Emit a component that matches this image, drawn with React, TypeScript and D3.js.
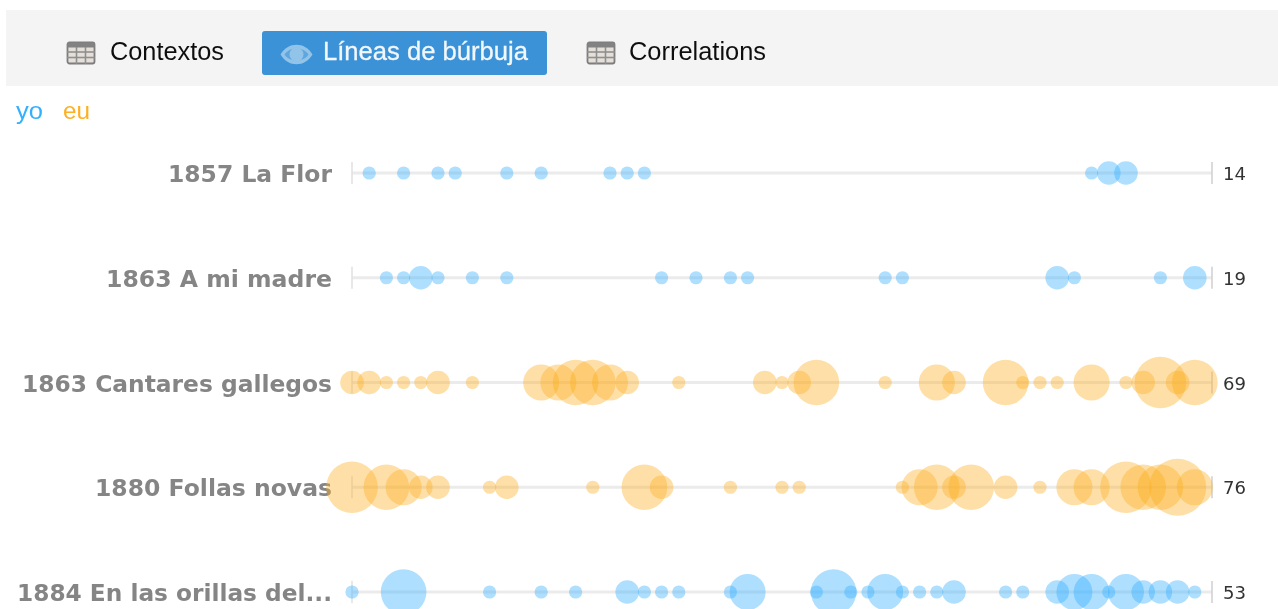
import React from "react";
import * as d3 from "d3";

const BOOKS = ["1857 La Flor", "1863 A mi madre", "1863 Cantares gallegos", "1880 Follas novas", "1884 En las orillas del..."];
const TOTALS = [14, 19, 69, 76, 53];
const SPEAKER = ["yo", "yo", "eu", "eu", "yo"];
const POS_1857 = [1, 3, 5, 6, 9, 11, 15, 16, 17, 43, 44, 45];
const VAL_1857 = [1, 1, 1, 1, 1, 1, 1, 1, 1, 1, 2, 2];
const POS_1863A = [2, 3, 4, 5, 7, 9, 18, 20, 22, 23, 31, 32, 41, 42, 47, 49];
const VAL_1863A = [1, 1, 2, 1, 1, 1, 1, 1, 1, 1, 1, 1, 2, 1, 1, 2];
const POS_1863C = [0, 1, 2, 3, 4, 5, 7, 11, 12, 13, 14, 15, 16, 19, 24, 25, 26, 27, 31, 34, 35, 38, 39, 40, 41, 43, 45, 46, 47, 48, 49];
const VAL_1863C = [2, 2, 1, 1, 1, 2, 1, 3, 3, 4, 4, 3, 2, 1, 2, 1, 2, 4, 1, 3, 2, 4, 1, 1, 1, 3, 1, 2, 5, 2, 4];
const POS_1880 = [0, 2, 3, 4, 5, 8, 9, 14, 17, 18, 22, 25, 26, 32, 33, 34, 35, 36, 38, 40, 42, 43, 45, 46, 47, 48, 49];
const VAL_1880 = [5, 4, 3, 2, 2, 1, 2, 1, 4, 2, 1, 1, 1, 1, 3, 4, 2, 4, 2, 1, 3, 3, 5, 4, 4, 6, 3];
const POS_1884 = [0, 3, 8, 11, 13, 16, 17, 18, 19, 22, 23, 27, 28, 29, 30, 31, 32, 33, 34, 35, 38, 39, 41, 42, 43, 44, 45, 46, 47, 48, 49];
const VAL_1884 = [1, 4, 1, 1, 1, 2, 1, 1, 1, 1, 3, 1, 4, 1, 1, 3, 1, 1, 1, 2, 1, 1, 2, 3, 3, 1, 3, 2, 2, 2, 1];
const POSITIONS = [POS_1857, POS_1863A, POS_1863C, POS_1880, POS_1884];
const VALUES = [VAL_1857, VAL_1863A, VAL_1863C, VAL_1880, VAL_1884];
const LEGEND = ["yo", "eu"];
const TABS = ["Contextos", "Líneas de búrbuja", "Correlations"];
const LABEL_WIDTHS = [164, 226, 310, 237, 315];

const x = d3.scaleLinear().domain([0, 50]).range([352, 1212]);
const y = d3.scalePoint<number>().domain([0, 1, 2, 3, 4]).range([173, 592]);
const r = d3.scaleLinear().domain([1, 2, 3, 4, 5, 6]).range([6.6, 11.8, 18, 22.8, 25.8, 28.5]);
const color = d3.scaleOrdinal<string>().domain(LEGEND).range(["#35b0fe", "#fdb022"]);
const SANS = "'Liberation Sans', Arial, sans-serif";

function TableIcon({ px, py }: { px: number; py: number }) {
  const w = 28, h = 22;
  return (
    <g transform={`translate(${px},${py})`}>
      <rect x={0.5} y={0.5} width={w - 1} height={h - 1} rx={2} fill="#e4dfd9" stroke="#7d7d7d" strokeWidth={1.8} />
      <rect x={0.5} y={0.5} width={w - 1} height={5} fill="#828282" />
      {[9.5, 18.5].map((d) => <line key={d} x1={d} x2={d} y1={5} y2={h} stroke="#8f8f8f" strokeWidth={1.6} />)}
      {[10, 15.5].map((d) => <line key={d} x1={0} x2={w} y1={d} y2={d} stroke="#8f8f8f" strokeWidth={1.6} />)}
    </g>
  );
}

export default function App() {
  return (
    <svg width={1278} height={609} style={{ position: "absolute", left: 0, top: 0, display: "block" }}>
      <defs>
        <filter id="soft" x="-2%" y="-2%" width="104%" height="104%">
          <feGaussianBlur stdDeviation={0.6} />
        </filter>
      </defs>
      <rect width={1278} height={609} fill="#fff" />
      <g filter="url(#soft)">
        <rect x={6} y={10} width={1272} height={76} fill="#f4f4f4" />
        <rect x={262} y={31} width={285} height={44} rx={3} fill="#3a92d6" />
        <TableIcon px={67} py={42} />
        <TableIcon px={587} py={42} />
        <text x={110} y={60} fontFamily={SANS} fontSize={26} fill="#111" textLength={114} lengthAdjust="spacingAndGlyphs">{TABS[0]}</text>
        <g>
          <path d="M280.5 54.5 C288 41.5 305 41.5 312.5 54.5 C305 67.5 288 67.5 280.5 54.5 Z" fill="#92c3e9" />
          <path d="M284.5 54.5 C290 46.5 303 46.5 308.5 54.5 C303 62.5 290 62.5 284.5 54.5 Z" fill="#5ea6de" />
          <circle cx={296.5} cy={54.5} r={7} fill="#92c3e9" />
        </g>
        <text x={323} y={60} fontFamily={SANS} fontSize={26} fontWeight={500} fill="#f2f7fc" stroke="#f2f7fc" strokeWidth={0.3} textLength={205} lengthAdjust="spacingAndGlyphs">{TABS[1]}</text>
        <text x={629} y={60} fontFamily={SANS} fontSize={26} fill="#111" textLength={137} lengthAdjust="spacingAndGlyphs">{TABS[2]}</text>
        <text x={16} y={119} fontFamily={SANS} fontSize={24} fill={color("yo")} textLength={27} lengthAdjust="spacingAndGlyphs">{LEGEND[0]}</text>
        <text x={63} y={119} fontFamily={SANS} fontSize={24} fill={color("eu")} textLength={27} lengthAdjust="spacingAndGlyphs">{LEGEND[1]}</text>

        {BOOKS.map((book, i) => {
          const cy = y(i)!;
          return (
            <g key={book}>
              <text x={332} y={cy + 9} textAnchor="end" fontFamily="'DejaVu Sans', sans-serif" fontWeight="bold" fontSize={23} fill="#858585" textLength={LABEL_WIDTHS[i]} lengthAdjust="spacingAndGlyphs">{book}</text>
              <line x1={x(0)} x2={x(50)} y1={cy} y2={cy} stroke="#ebebeb" strokeWidth={3} />
              <line x1={x(0)} x2={x(0)} y1={cy - 11} y2={cy + 11} stroke="#e0e0e0" strokeWidth={1.5} />
              <line x1={x(50)} x2={x(50)} y1={cy - 11} y2={cy + 11} stroke="#cfcfcf" strokeWidth={1.5} />
              {POSITIONS[i].map((p, j) => (
                <circle key={p} cx={x(p)} cy={cy} r={r(VALUES[i][j])} fill={color(SPEAKER[i])} fillOpacity={0.4} />
              ))}
              <text x={1223} y={cy + 7} fontFamily="'DejaVu Sans', sans-serif" fontSize={17} fill="#333" textLength={23} lengthAdjust="spacingAndGlyphs">{TOTALS[i]}</text>
            </g>
          );
        })}
      </g>
    </svg>
  );
}
